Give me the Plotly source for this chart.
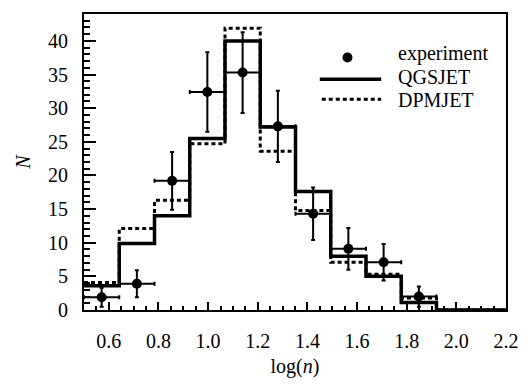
import plotly.graph_objects as go

# ---- data ----
bin_edges = [0.5, 0.642, 0.784, 0.926, 1.068, 1.21, 1.352, 1.494, 1.636, 1.778, 1.92]
qgsjet = [3.6, 9.9, 14.0, 25.5, 40.0, 27.2, 17.6, 8.0, 5.0, 1.1]
dpmjet = [4.1, 12.1, 16.3, 24.7, 41.9, 23.6, 14.8, 7.1, 5.3, 1.8]
exp_n = [1.9, 3.9, 19.2, 32.4, 35.3, 27.3, 14.3, 9.1, 7.1, 2.0]
exp_err = [1.4, 2.0, 4.3, 5.9, 6.0, 5.3, 3.9, 3.1, 2.7, 1.5]
x_max = 2.2

centers = [(a + b) / 2 for a, b in zip(bin_edges[:-1], bin_edges[1:])]
half_w = [(b - a) / 2 for a, b in zip(bin_edges[:-1], bin_edges[1:])]


def step_xy(vals):
    xs = list(bin_edges[:-1]) + [bin_edges[-1], x_max]
    ys = list(vals) + [0, 0]
    return xs, ys


FONT = "Liberation Serif"
FS = 20
fig = go.Figure()

xs, ys = step_xy(dpmjet)
fig.add_trace(go.Scatter(x=xs, y=ys, mode="lines", line_shape="hv",
                         line=dict(color="black", width=3, dash="4px,3px"),
                         name="DPMJET", showlegend=False))
xs, ys = step_xy(qgsjet)
fig.add_trace(go.Scatter(x=xs, y=ys, mode="lines", line_shape="hv",
                         line=dict(color="black", width=3.5),
                         name="QGSJET", showlegend=False))
fig.add_trace(go.Scatter(x=centers, y=exp_n, mode="markers",
                         marker=dict(color="black", size=10),
                         error_y=dict(type="data", array=exp_err, color="black",
                                      thickness=2, width=2),
                         error_x=dict(type="data", array=half_w, color="black",
                                      thickness=2, width=2),
                         name="experiment", showlegend=False))

# manual legend (paper coordinates)
L, R, T, B = 84, 510, 12, 311


def px(xp):
    return (xp - L) / (R - L)


def py(yp):
    return (B - yp) / (B - T)


fig.add_shape(type="circle", xref="paper", yref="paper",
              xsizemode="pixel", ysizemode="pixel",
              xanchor=px(350), yanchor=py(56), x0=-5, x1=5, y0=-5, y1=5,
              fillcolor="black", line=dict(color="black", width=0))
fig.add_shape(type="line", xref="paper", yref="paper",
              x0=px(322), x1=px(384), y0=py(78), y1=py(78),
              line=dict(color="black", width=3.5))
fig.add_shape(type="line", xref="paper", yref="paper",
              x0=px(324), x1=px(384), y0=py(98), y1=py(98),
              line=dict(color="black", width=3, dash="4px,3px"))
for label, yy in [("experiment", 52), ("QGSJET", 76), ("DPMJET", 99)]:
    fig.add_annotation(text=label, xref="paper", yref="paper",
                       x=px(399), y=py(yy), xanchor="left", yanchor="middle",
                       showarrow=False, font=dict(family=FONT, size=FS, color="black"))

fig.update_layout(
    width=531, height=386,
    margin=dict(l=84, r=21, t=12, b=75),
    paper_bgcolor="white", plot_bgcolor="white",
    font=dict(family=FONT, size=FS, color="black"),
    showlegend=False,
)
fig.update_xaxes(
    range=[0.5, 2.2], tick0=0, dtick=0.2, tickformat=".1f",
    ticks="inside", ticklen=8, tickwidth=1.5, tickcolor="black",
    minor=dict(dtick=0.05, tick0=0, ticks="inside", ticklen=4, tickwidth=1.5, tickcolor="black"),
    showline=True, linewidth=2, linecolor="black", mirror=True,
    showgrid=False, zeroline=False, ticklabelstandoff=12,
    title=dict(text="log(<i>n</i>)", font=dict(family=FONT, size=FS), standoff=8),
)
fig.update_yaxes(
    range=[0, 44], tick0=0, dtick=5,
    ticks="inside", ticklen=12, tickwidth=1.5, tickcolor="black",
    minor=dict(dtick=1, tick0=0, ticks="inside", ticklen=6, tickwidth=1.5, tickcolor="black"),
    showline=True, linewidth=2, linecolor="black", mirror=True,
    showgrid=False, zeroline=False, ticklabelstandoff=10,
    title=dict(text="<i>N</i>", font=dict(family=FONT, size=FS), standoff=12),
)

fig.write_html("out.html")
